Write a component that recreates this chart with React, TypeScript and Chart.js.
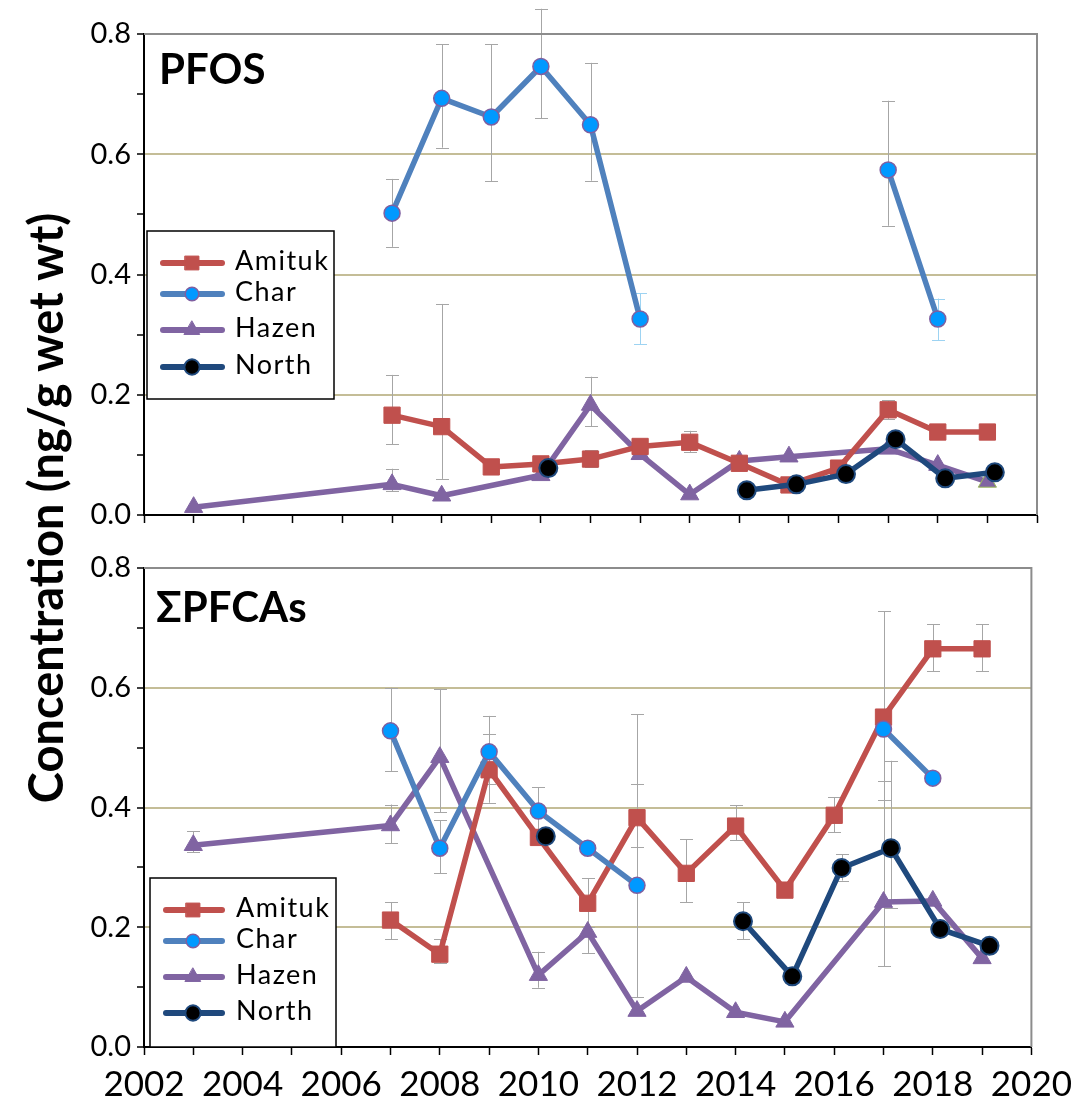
import React, { useEffect, useRef } from 'react';
import { Chart, registerables } from 'chart.js';

Chart.register(...registerables);

const W = 1081;
const H = 1106;

// ---------- Text ----------
const SERIES_NAMES = ['Amituk', 'Char', 'Hazen', 'North'];
const PANEL_LABELS = ['PFOS', 'ΣPFCAs'];
const Y_TITLE = 'Concentration (ng/g wet wt)';

// ---------- Axis ----------
const X_MIN = 2002;
const X_MAX = 2020;
const Y_MIN = 0;
const Y_MAX = 0.8;

// ---------- PFOS ----------
const pfosAmitukYears = [2007, 2008, 2009, 2010, 2011, 2012, 2013, 2014, 2015, 2016, 2017, 2018, 2019];
const pfosAmitukValues = [0.166, 0.147, 0.08, 0.085, 0.093, 0.114, 0.121, 0.086, 0.05, 0.078, 0.175, 0.138, 0.138];
const pfosAmitukErrLow = [0.118, 0.06, null, null, 0.08, null, 0.105, null, null, null, 0.16, null, null];
const pfosAmitukErrHigh = [0.233, 0.351, null, null, 0.108, null, 0.14, null, null, null, 0.191, null, null];

const pfosCharYears = [2007, 2008, 2009, 2010, 2011, 2012, 2014, 2017, 2018];
const pfosCharValues = [0.502, 0.693, 0.662, 0.746, 0.649, 0.326, null, 0.574, 0.326];
const pfosCharErrLow = [0.446, 0.611, 0.555, 0.66, 0.556, 0.284, null, 0.481, 0.291];
const pfosCharErrHigh = [0.559, 0.783, 0.783, 0.842, 0.752, 0.369, null, 0.689, 0.36];

const pfosHazenYears = [2003, 2007, 2008, 2010, 2011, 2012, 2013, 2014, 2015, 2017, 2018, 2019];
const pfosHazenValues = [0.013, 0.051, 0.032, 0.066, 0.183, 0.101, 0.034, 0.09, 0.097, 0.11, 0.083, 0.055];
const pfosHazenErrLow = [null, 0.04, null, null, 0.148, null, null, null, null, null, null, null];
const pfosHazenErrHigh = [null, 0.077, null, null, 0.23, null, null, null, null, null, null, null];

const pfosNorthYears = [2010.15, 2012, 2014.15, 2015.15, 2016.15, 2017.15, 2018.15, 2019.15];
const pfosNorthValues = [0.078, null, 0.041, 0.051, 0.068, 0.126, 0.061, 0.071];

// ---------- ΣPFCAs ----------
const pfcaAmitukYears = [2007, 2008, 2009, 2010, 2011, 2012, 2013, 2014, 2015, 2016, 2017, 2018, 2019];
const pfcaAmitukValues = [0.212, 0.155, 0.463, 0.35, 0.24, 0.383, 0.29, 0.369, 0.262, 0.387, 0.551, 0.665, 0.665];
const pfcaAmitukErrLow = [0.18, 0.14, 0.408, null, 0.2, 0.334, 0.242, 0.345, null, 0.359, 0.412, 0.628, 0.628];
const pfcaAmitukErrHigh = [0.242, 0.18, 0.523, null, 0.282, 0.44, 0.347, 0.404, null, 0.417, 0.728, 0.706, 0.706];

const pfcaCharYears = [2007, 2008, 2009, 2010, 2011, 2012, 2014, 2017, 2018];
const pfcaCharValues = [0.528, 0.332, 0.493, 0.394, 0.332, 0.27, null, 0.531, 0.449];
const pfcaCharErrLow = [0.461, 0.29, 0.44, 0.36, null, 0.083, null, null, null];
const pfcaCharErrHigh = [0.6, 0.379, 0.553, 0.434, null, 0.556, null, null, null];

const pfcaHazenYears = [2003, 2007, 2008, 2010, 2011, 2012, 2013, 2014, 2015, 2017, 2018, 2019];
const pfcaHazenValues = [0.337, 0.37, 0.484, 0.12, 0.192, 0.06, 0.117, 0.058, 0.042, 0.242, 0.244, 0.148];
const pfcaHazenErrLow = [0.325, 0.34, 0.392, 0.099, 0.157, null, null, null, null, 0.135, null, null];
const pfcaHazenErrHigh = [0.36, 0.405, 0.598, 0.159, 0.23, null, null, null, null, 0.444, null, null];

const pfcaNorthYears = [2010.15, 2012, 2014.15, 2015.15, 2016.15, 2017.15, 2018.15, 2019.15];
const pfcaNorthValues = [0.352, null, 0.21, 0.118, 0.299, 0.332, 0.197, 0.169];
const pfcaNorthErrLow = [null, null, 0.18, null, 0.278, 0.232, null, null];
const pfcaNorthErrHigh = [null, null, 0.242, null, 0.322, 0.478, null, null];

// ---------- Styles ----------
const FONT = 'Lato, "Open Sans", sans-serif';
const ERR_GRAY = '#A6A6A6';
const ERR_BLUE = '#9DD3F2';
const GRID = '#C4BD97';

const baseLine = {
  borderWidth: 5.5,
  borderJoinStyle: 'round',
  borderCapStyle: 'round',
  tension: 0,
  fill: false,
  spanGaps: false,
};
const amitukStyle = {
  ...baseLine,
  borderColor: '#C0504D',
  backgroundColor: '#C0504D',
  pointStyle: 'rect',
  pointRadius: 11.5,
  pointBackgroundColor: '#C0504D',
  pointBorderColor: '#C0504D',
  pointBorderWidth: 1,
  order: 2,
};
const charStyle = {
  ...baseLine,
  borderColor: '#4F81BD',
  backgroundColor: '#0099FF',
  pointStyle: 'circle',
  pointRadius: 8,
  pointBackgroundColor: '#0099FF',
  pointBorderColor: '#7F5FA0',
  pointBorderWidth: 1.5,
  order: 1,
};
const hazenStyle = {
  ...baseLine,
  borderColor: '#8064A2',
  backgroundColor: '#8064A2',
  pointStyle: 'triangle',
  pointRadius: 10.5,
  pointBackgroundColor: '#8064A2',
  pointBorderColor: '#8064A2',
  pointBorderWidth: 1,
  order: 3,
};
const northStyle = {
  ...baseLine,
  borderColor: '#1F497D',
  backgroundColor: '#000000',
  pointStyle: 'circle',
  pointRadius: 9,
  pointBackgroundColor: '#000000',
  pointBorderColor: '#1F497D',
  pointBorderWidth: 2,
  order: 0,
};

function series(label: string, years: number[], values: (number | null)[], lo: (number | null)[] | null, hi: (number | null)[] | null, style: any, extra: any = {}) {
  return {
    type: 'line',
    label,
    data: years.map((x, i) => ({ x, y: values[i] })),
    errLow: lo,
    errHigh: hi,
    ...style,
    ...extra,
  };
}

// ---------- Plugins ----------
const errorBarPlugin = {
  id: 'errorBars',
  beforeDatasetsDraw(chart: any) {
    const { ctx } = chart;
    const xs = chart.scales.x;
    const ys = chart.scales.y;
    chart.data.datasets.forEach((ds: any) => {
      if (!ds.errLow || !ds.errHigh) return;
      ds.data.forEach((p: any, i: number) => {
        const lo = ds.errLow[i];
        const hi = ds.errHigh[i];
        if (lo == null || hi == null || p.y == null) return;
        const px = Math.round(xs.getPixelForValue(p.x)) + 0.5;
        const yl = ys.getPixelForValue(lo);
        const yh = ys.getPixelForValue(hi);
        ctx.save();
        ctx.strokeStyle = (ds.errColors && ds.errColors[i]) || ERR_GRAY;
        ctx.lineWidth = 1;
        ctx.beginPath();
        ctx.moveTo(px, yl);
        ctx.lineTo(px, yh);
        ctx.moveTo(px - 6.5, Math.round(yl) + 0.5);
        ctx.lineTo(px + 6.5, Math.round(yl) + 0.5);
        ctx.moveTo(px - 6.5, Math.round(yh) + 0.5);
        ctx.lineTo(px + 6.5, Math.round(yh) + 0.5);
        ctx.stroke();
        ctx.restore();
      });
    });
  },
};

const framePlugin = {
  id: 'frame',
  beforeDatasetsDraw(chart: any) {
    const { ctx, chartArea } = chart;
    ctx.save();
    ctx.strokeStyle = '#8C8C8C';
    ctx.lineWidth = 2;
    ctx.beginPath();
    ctx.moveTo(chartArea.left, chartArea.top);
    ctx.lineTo(chartArea.right, chartArea.top);
    ctx.lineTo(chartArea.right, chartArea.bottom);
    ctx.stroke();
    ctx.restore();
  },
};

function drawMarker(ctx: any, style: string, x: number, y: number, r: number, fill: string, stroke: string, bw: number) {
  ctx.beginPath();
  if (style === 'rect') {
    const s = Math.SQRT1_2 * r;
    ctx.rect(x - s, y - s, 2 * s, 2 * s);
  } else if (style === 'triangle') {
    for (let k = 0; k < 3; k++) {
      const a = (k * 2 * Math.PI) / 3;
      const px = x + Math.sin(a) * r;
      const py = y - Math.cos(a) * r;
      if (k === 0) ctx.moveTo(px, py);
      else ctx.lineTo(px, py);
    }
    ctx.closePath();
  } else {
    ctx.arc(x, y, r, 0, Math.PI * 2);
  }
  ctx.fillStyle = fill;
  ctx.fill();
  ctx.lineWidth = bw;
  ctx.strokeStyle = stroke;
  ctx.stroke();
}

const boxLegendPlugin = {
  id: 'boxLegend',
  afterDatasetsDraw(chart: any, _args: any, opts: any) {
    if (!opts || !opts.box) return;
    const ctx = chart.ctx;
    const box = opts.box;
    ctx.save();
    ctx.fillStyle = '#ffffff';
    ctx.fillRect(box.x, box.y, box.w, box.h);
    ctx.strokeStyle = '#000000';
    ctx.lineWidth = 1.5;
    ctx.strokeRect(box.x, box.y, box.w, box.h);
    chart.data.datasets.forEach((ds: any, i: number) => {
      const y = opts.rows[i];
      ctx.strokeStyle = ds.borderColor;
      ctx.lineWidth = 6;
      ctx.lineCap = 'round';
      ctx.beginPath();
      ctx.moveTo(opts.lineX1, y);
      ctx.lineTo(opts.lineX2, y);
      ctx.stroke();
      const border = Array.isArray(ds.pointBorderColor) ? ds.pointBorderColor[0] : ds.pointBorderColor;
      drawMarker(ctx, ds.pointStyle, opts.markX, y, ds.pointRadius * 0.85, ds.pointBackgroundColor, border, ds.pointBorderWidth);
      ctx.fillStyle = '#000000';
      ctx.font = `27px ${FONT}`;
      (ctx as any).letterSpacing = '1.5px';
      ctx.textAlign = 'left';
      ctx.textBaseline = 'middle';
      ctx.fillText(ds.label, opts.textX, y - 2);
      (ctx as any).letterSpacing = '0px';
    });
    ctx.restore();
  },
};

const panelTextPlugin = {
  id: 'panelText',
  afterDraw(chart: any, _args: any, opts: any) {
    if (!opts || !opts.label) return;
    const ctx = chart.ctx;
    ctx.save();
    ctx.fillStyle = '#000000';
    ctx.font = `bold 42px ${FONT}`;
    ctx.textAlign = 'left';
    ctx.textBaseline = 'alphabetic';
    ctx.fillText(opts.label, opts.x, opts.y);
    if (opts.axisTitle) {
      ctx.translate(opts.titleX, opts.titleY);
      ctx.rotate(-Math.PI / 2);
      ctx.textAlign = 'center';
      ctx.textBaseline = 'middle';
      ctx.font = `bold 47px ${FONT}`;
      ctx.fillText(opts.axisTitle, 0, 0);
    }
    ctx.restore();
  },
};

function makeOptions(p: { top: number; bottomPad: number; xHeight: number; showX: boolean; legend: any; label: any }) {
  return {
    responsive: false,
    animation: false,
    devicePixelRatio: 1,
    events: [],
    layout: { padding: { left: 0, top: p.top, right: 44, bottom: p.bottomPad } },
    plugins: {
      legend: { display: false },
      tooltip: { enabled: false },
      title: { display: false },
      boxLegend: p.legend,
      panelText: p.label,
    },
    scales: {
      x: {
        type: 'linear',
        min: X_MIN,
        max: X_MAX,
        afterFit: (s: any) => {
          s.height = p.xHeight;
        },
        ticks: {
          display: p.showX,
          stepSize: 1,
          autoSkip: false,
          maxRotation: 0,
          padding: 9,
          color: '#000000',
          font: { family: FONT, size: 35 },
          callback: (v: any) => (Math.round(v) % 2 === 0 ? String(Math.round(v)) : ''),
        },
        grid: {
          drawOnChartArea: false,
          drawTicks: true,
          tickLength: 8,
          tickColor: '#000000',
          tickWidth: 1.5,
        },
        border: { display: true, color: '#000000', width: 2 },
      },
      y: {
        type: 'linear',
        min: Y_MIN,
        max: Y_MAX,
        afterFit: (s: any) => {
          s.width = 144;
        },
        ticks: {
          stepSize: 0.1,
          autoSkip: false,
          padding: 6,
          color: '#000000',
          font: { family: FONT, size: 29 },
          callback: (v: any) => {
            const k = Math.round(v * 10);
            return k % 2 === 0 ? (k / 10).toFixed(1) : '';
          },
        },
        grid: {
          drawTicks: true,
          tickLength: 7,
          tickColor: '#000000',
          tickWidth: 1.5,
          lineWidth: 2,
          color: (c: any) => {
            const k = Math.round((c.tick ? c.tick.value : 0) * 10);
            return k === 2 || k === 4 || k === 6 ? GRID : 'rgba(0,0,0,0)';
          },
        },
        border: { display: true, color: '#000000', width: 2 },
      },
    },
  };
}

export default function App() {
  const topRef = useRef<HTMLCanvasElement>(null);
  const bottomRef = useRef<HTMLCanvasElement>(null);

  useEffect(() => {
    const blueErr = (years: number[]) => years.map((y) => (y === 2012 || y === 2018 ? ERR_BLUE : ERR_GRAY));
    const hazenBorders = pfosHazenYears.map((y) => (y === 2019 ? '#9BBB59' : '#8064A2'));

    const topChart = new Chart(topRef.current as HTMLCanvasElement, {
      type: 'line',
      data: {
        datasets: [
          series(SERIES_NAMES[0], pfosAmitukYears, pfosAmitukValues, pfosAmitukErrLow, pfosAmitukErrHigh, amitukStyle),
          series(SERIES_NAMES[1], pfosCharYears, pfosCharValues, pfosCharErrLow, pfosCharErrHigh, charStyle, { errColors: blueErr(pfosCharYears) }),
          series(SERIES_NAMES[2], pfosHazenYears, pfosHazenValues, pfosHazenErrLow, pfosHazenErrHigh, hazenStyle, { pointBorderColor: hazenBorders }),
          series(SERIES_NAMES[3], pfosNorthYears, pfosNorthValues, null, null, northStyle),
        ] as any,
      },
      options: makeOptions({
        top: 34,
        bottomPad: H - 515 - 20,
        xHeight: 20,
        showX: false,
        legend: {
          box: { x: 147, y: 231, w: 187, h: 168 },
          rows: [263, 294, 330, 367],
          lineX1: 163,
          lineX2: 222,
          markX: 192,
          textX: 235,
        },
        label: { label: PANEL_LABELS[0], x: 159, y: 84 },
      }) as any,
      plugins: [errorBarPlugin, framePlugin, boxLegendPlugin, panelTextPlugin],
    });

    const bottomChart = new Chart(bottomRef.current as HTMLCanvasElement, {
      type: 'line',
      data: {
        datasets: [
          series(SERIES_NAMES[0], pfcaAmitukYears, pfcaAmitukValues, pfcaAmitukErrLow, pfcaAmitukErrHigh, amitukStyle),
          series(SERIES_NAMES[1], pfcaCharYears, pfcaCharValues, pfcaCharErrLow, pfcaCharErrHigh, charStyle),
          series(SERIES_NAMES[2], pfcaHazenYears, pfcaHazenValues, pfcaHazenErrLow, pfcaHazenErrHigh, hazenStyle),
          series(SERIES_NAMES[3], pfcaNorthYears, pfcaNorthValues, pfcaNorthErrLow, pfcaNorthErrHigh, northStyle),
        ] as any,
      },
      options: makeOptions({
        top: 568,
        bottomPad: 0,
        xHeight: H - 1047,
        showX: true,
        legend: {
          box: { x: 150, y: 878, w: 186, h: 169 },
          rows: [910, 941, 977, 1013],
          lineX1: 166,
          lineX2: 222,
          markX: 193,
          textX: 236,
        },
        label: { label: PANEL_LABELS[1], x: 156, y: 622, axisTitle: Y_TITLE, titleX: 48, titleY: 508 },
      }) as any,
      plugins: [errorBarPlugin, framePlugin, boxLegendPlugin, panelTextPlugin],
    });

    return () => {
      topChart.destroy();
      bottomChart.destroy();
    };
  }, []);

  return (
    <div style={{ position: 'absolute', left: 0, top: 0, width: W, height: H, background: '#ffffff' }}>
      <canvas ref={bottomRef} width={W} height={H} style={{ position: 'absolute', left: 0, top: 0 }} />
      <canvas ref={topRef} width={W} height={H} style={{ position: 'absolute', left: 0, top: 0 }} />
    </div>
  );
}
